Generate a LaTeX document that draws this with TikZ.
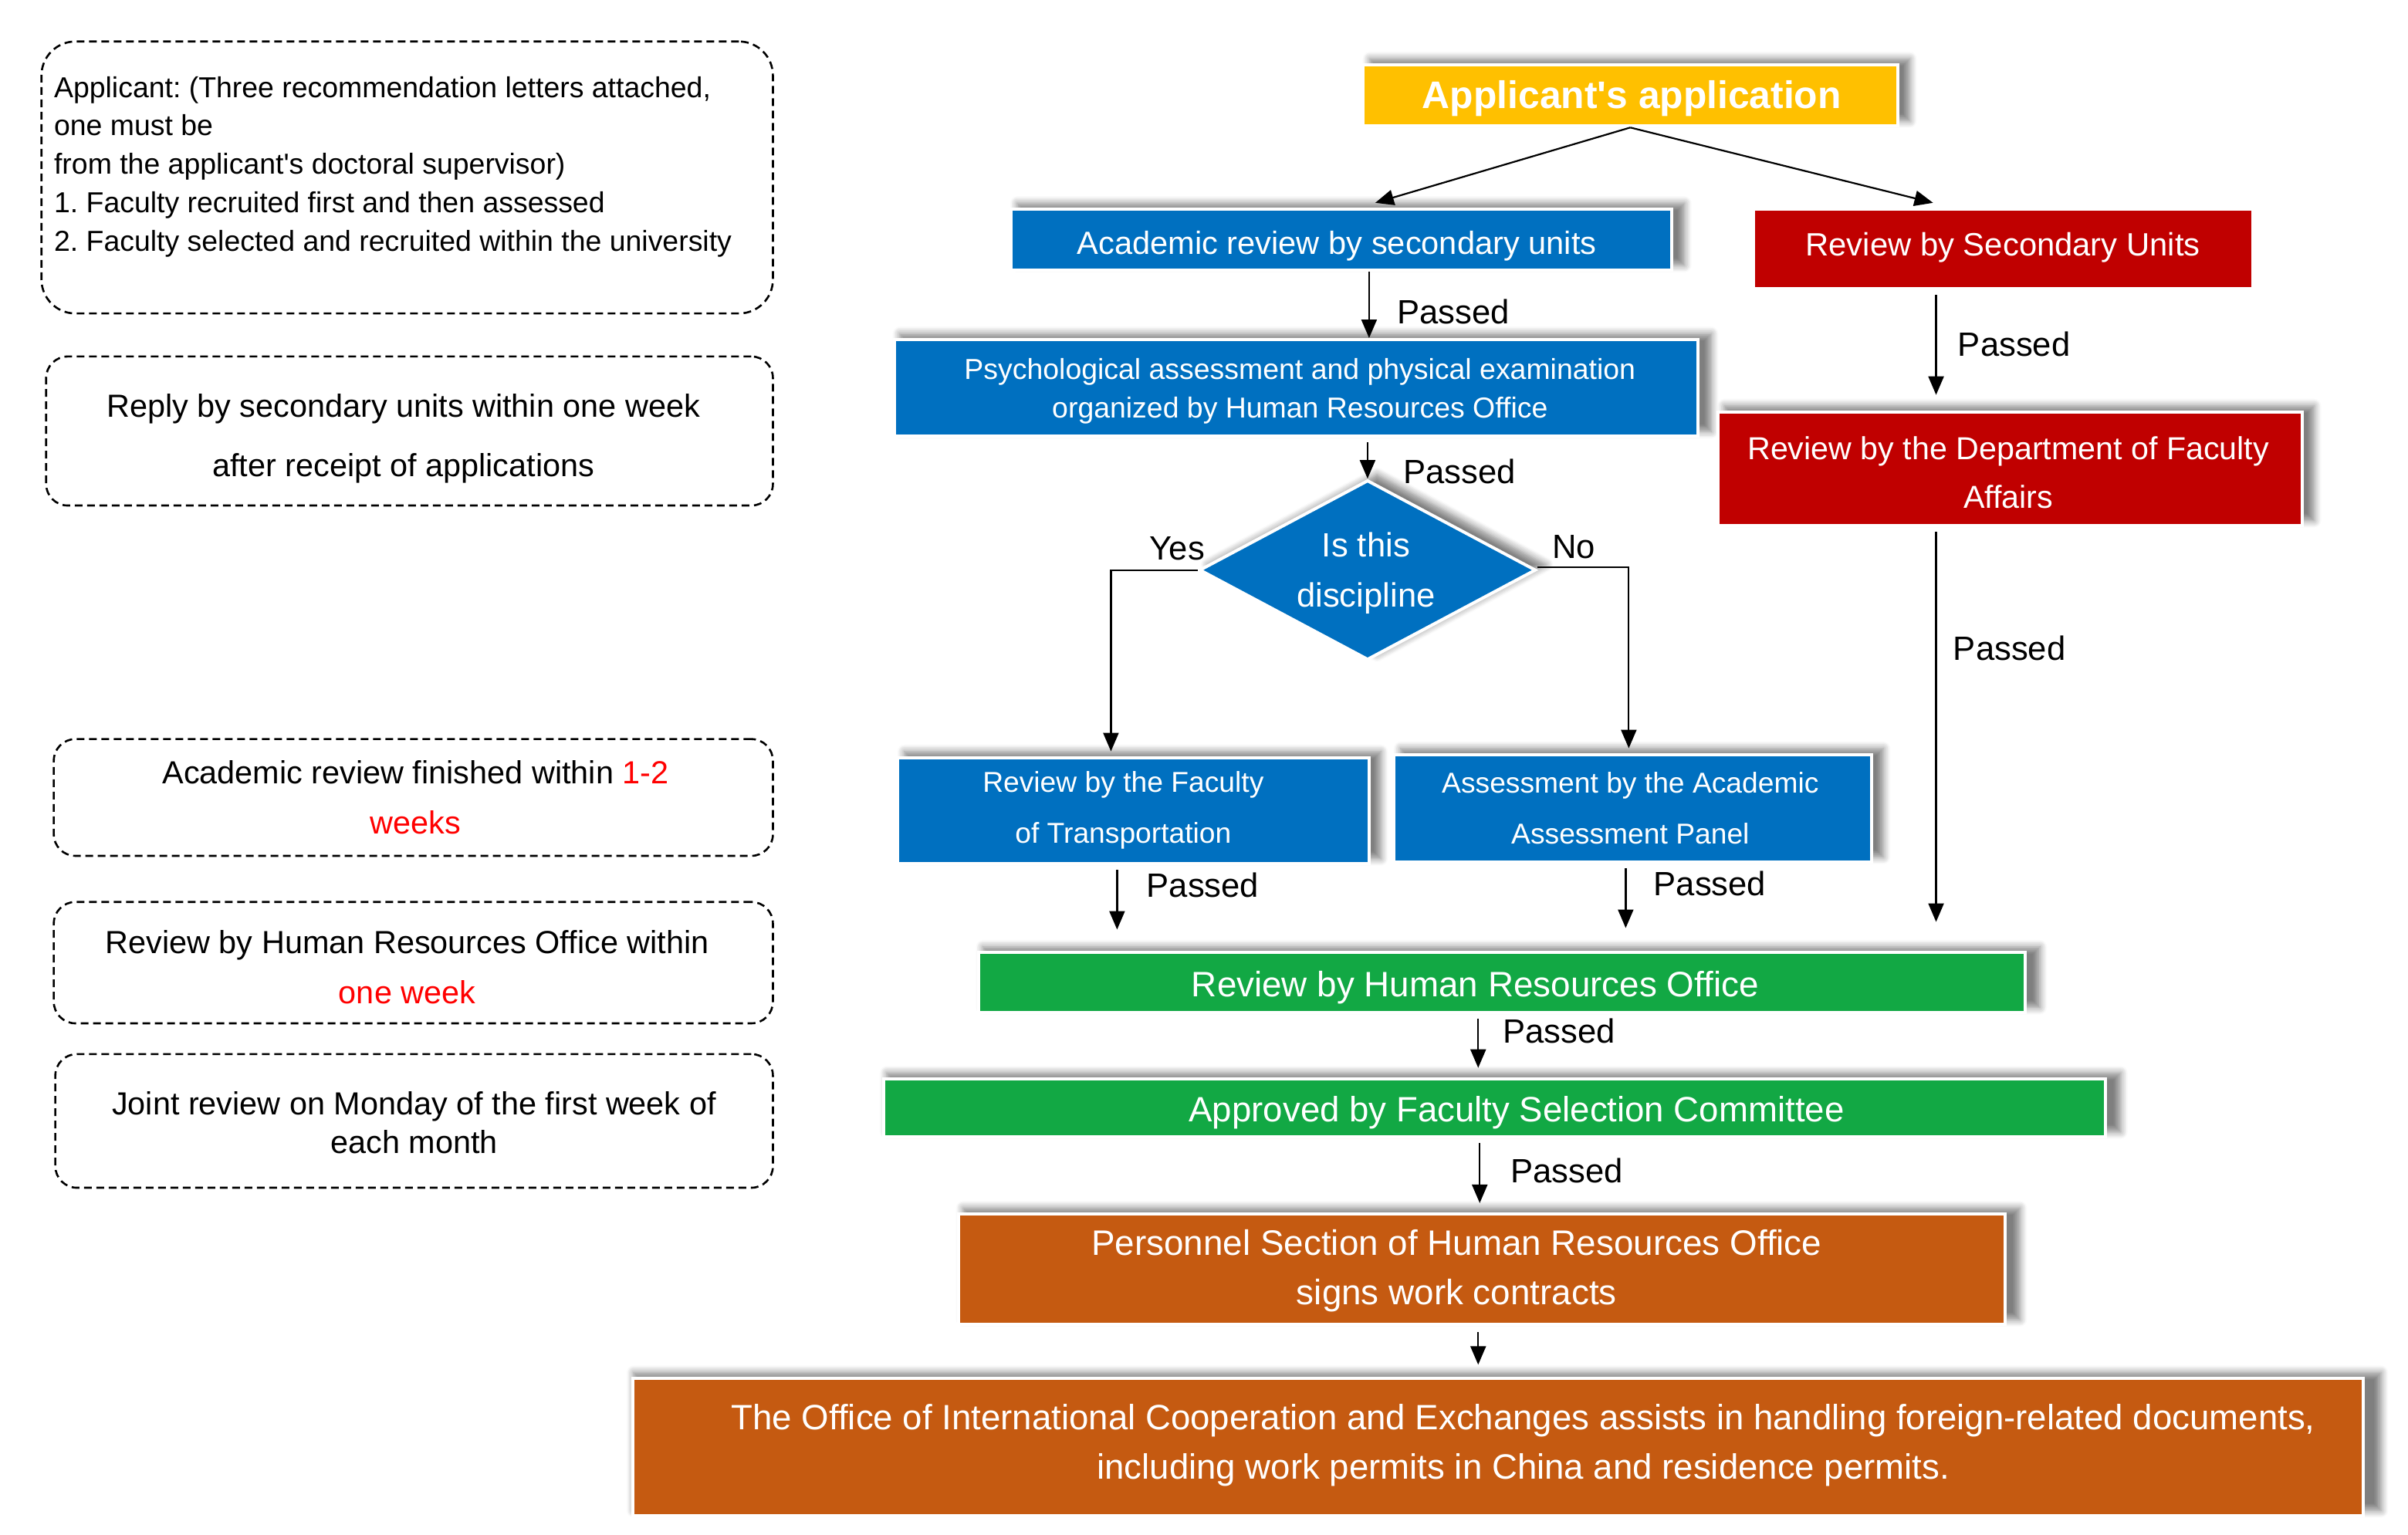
\documentclass[tikz,border=0pt]{standalone}
\usepackage{fontspec}
\setmainfont{Liberation Sans}
\newfontfamily\arialf{Liberation Sans}
\usetikzlibrary{arrows.meta,shapes.geometric,shadows.blur,calc}
\definecolor{cyellow}{RGB}{255,192,0}
\definecolor{cblue}{RGB}{0,112,192}
\definecolor{cred}{RGB}{192,0,0}
\definecolor{cgreen}{RGB}{18,168,68}
\definecolor{corange}{RGB}{197,90,17}
\newcommand\fsz[2]{\arialf\frenchspacing\fontsize{#1}{#2}\selectfont}
\frenchspacing
\begin{document}
\begin{tikzpicture}[x=1pt,y=-1pt,scale=0.9955,every node/.append style={transform shape},
  proc/.style={draw=white, line width=2pt, inner sep=0pt,
    blur shadow={shadow xshift=6pt, shadow yshift=3.5pt, shadow scale=1.01, shadow blur radius=4.5pt, shadow blur steps=6, shadow opacity=50}},
  procns/.style={draw=white, line width=2pt, inner sep=0pt},
  wtxt/.style={text=white, align=center, inner sep=0pt},
  btxt/.style={text=black, align=center, inner sep=0pt},
  note/.style={draw=black, line width=1.3pt, dash pattern=on 5pt off 3pt, inner sep=0pt},
  arr/.style={-{Triangle[length=12pt,width=10pt]}, line width=1.1pt},
  lab/.style={font=\fsz{21.9}{26}, inner sep=0pt, anchor=west},
]
\useasboundingbox (0,0) rectangle (1567.07,999.0);

% ---------- left notes ----------
\node[note, minimum width=476pt, minimum height=177pt, rounded corners=22pt] (n1) at (265,115.5) {};
\node[font=\fsz{18.8}{25}, align=left, anchor=north west, inner sep=0pt] (n1t) at (35,49.5)
  {Applicant: (Three recommendation letters attached,\\one must be\\from the applicant's doctoral supervisor)\\1. Faculty recruited first and then assessed\\2. Faculty selected and recruited within the university};
\node[note, minimum width=473pt, minimum height=97pt, rounded corners=14pt] (n2) at (266.5,280.5) {};
\node[btxt, font=\fsz{20.8}{39}] (n2t) at ($(n2.center)+(-4,5)$)
  {Reply by secondary units within one week\\after receipt of applications};
\node[note, minimum width=468pt, minimum height=76pt, rounded corners=14pt] (n3) at (269,519) {};
\node[btxt, font=\fsz{20.8}{33}] (n3t) at ($(n3.center)+(1.5,0)$)
  {Academic review finished within \textcolor{red}{1-2}\\\textcolor{red}{weeks}};
\node[note, minimum width=468pt, minimum height=79pt, rounded corners=14pt] (n4) at (269,626.5) {};
\node[btxt, font=\fsz{20.8}{33}] (n4t) at ($(n4.center)+(-4,3)$)
  {Review by Human Resources Office within\\\textcolor{red}{one week}};
\node[note, minimum width=467pt, minimum height=87pt, rounded corners=14pt] (n5) at (269.5,729.5) {};
\node[btxt, font=\fsz{20.8}{25}] (n5t) at ($(n5.center)+(0,1)$)
  {Joint review on Monday of the first week of\\each month};

% ---------- flowchart boxes ----------
\node[proc, fill=cyellow, minimum width=348pt, minimum height=40pt] (app) at (1061,62) {};
\node[wtxt, font=\fsz{25}{30}\bfseries] (appt) at ($(app.center)+(1,2)$) {Applicant's application};

\node[proc, fill=cblue, minimum width=430pt, minimum height=40pt] (acad) at (873,156) {};
\node[wtxt, font=\fsz{20.9}{26}] (acadt) at ($(acad.center)+(-3,4)$) {Academic review by secondary units};

\node[procns, fill=cred, minimum width=325pt, minimum height=52pt] (secu) at (1303.5,162) {};
\node[wtxt, font=\fsz{21}{26}] (secut) at ($(secu.center)+(0,-1)$) {Review by Secondary Units};

\node[proc, fill=cblue, minimum width=523pt, minimum height=63pt] (psych) at (843.5,252.5) {};
\node[wtxt, font=\fsz{18.8}{25}] (psycht) at ($(psych.center)+(2.5,2)$)
  {Psychological assessment and physical examination\\organized by Human Resources Office};

\node[proc, fill=cblue, shape=diamond, aspect=1.87, minimum width=219pt, minimum height=117pt] (dia) at (890,371) {};
\node[wtxt, font=\fsz{21.9}{33}] (diat) at ($(dia.center)+(-1,2)$) {Is this\\discipline};

\node[proc, fill=cblue, minimum width=307pt, minimum height=69pt] (fac) at (737.5,527.5) {};
\node[wtxt, font=\fsz{18.7}{33}] (fact) at ($(fac.center)+(-6.5,0)$) {Review by the Faculty\\of Transportation};

\node[proc, fill=cblue, minimum width=311pt, minimum height=70pt] (aap) at (1062.5,526) {};
\node[wtxt, font=\fsz{18.7}{33}] (aapt) at ($(aap.center)+(-1.5,0)$) {Assessment by the Academic\\Assessment Panel};

\node[proc, fill=cred, minimum width=380pt, minimum height=74pt] (dept) at (1308,305) {};
\node[wtxt, font=\fsz{20.7}{32}] (deptt) at ($(dept.center)+(-1,2.5)$) {Review by the Department of Faculty\\Affairs};

\node[proc, fill=cgreen, minimum width=681pt, minimum height=39pt] (hr) at (977.5,639.5) {};
\node[wtxt, font=\fsz{23}{28}] (hrt) at ($(hr.center)+(-17.5,3)$) {Review by Human Resources Office};

\node[proc, fill=cgreen, minimum width=795pt, minimum height=38pt] (afsc) at (972.5,721) {};
\node[wtxt, font=\fsz{22.9}{28}] (afsct) at ($(afsc.center)+(14.5,3)$) {Approved by Faculty Selection Committee};

\node[proc, fill=corange, minimum width=681pt, minimum height=72pt] (pers) at (964.5,826) {};
\node[wtxt, font=\fsz{23}{32}] (perst) at ($(pers.center)+(-16.5,1)$)
  {Personnel Section of Human Resources Office\\signs work contracts};

\node[proc, fill=corange, minimum width=1126pt, minimum height=89pt] (office) at (974.9,941.7) {};
\node[wtxt, font=\fsz{22.9}{32}] (officet) at ($(office.center)+(16.5,-1)$)
  {The Office of International Cooperation and Exchanges assists in handling foreign-related documents,\\including work permits in China and residence permits.};

% ---------- connectors ----------
\draw[arr] (app.south) -- ([xshift=22pt,yshift=3pt]acad.north);
\draw[arr] (app.south) -- ([xshift=-45.5pt,yshift=3pt]secu.north);
\draw[arr] ([xshift=18pt]acad.south) -- ([xshift=18pt]acad.south |- psych.north);
\draw[arr] ([yshift=-3pt]psych.south -| dia.north) -- (dia.north);
\draw[arr] (dia.west) -| ([xshift=-14.5pt,yshift=3pt]fac.north);
\draw[arr] ([yshift=2pt]dia.east) -| ([xshift=-2.5pt,yshift=3pt]aap.north);
\draw[arr] ([xshift=-10.5pt,yshift=-3pt]fac.south) -- ([xshift=-10.5pt,yshift=14pt]fac.south |- hr.north);
\draw[arr] ([xshift=-4.5pt,yshift=-3pt]aap.south) -- ([xshift=-4.5pt,yshift=15pt]aap.south |- hr.north);
\draw[arr] ([xshift=-43.5pt,yshift=-3pt]secu.south) -- ([xshift=-43.5pt,yshift=10pt]secu.south |- dept.north);
\draw[arr] ([xshift=-48pt,yshift=-3pt]dept.south) -- ([xshift=-48pt,yshift=19pt]dept.south |- hr.north);
\draw[arr] ([xshift=-15.5pt,yshift=-3pt]hr.south) -- ([xshift=-15.5pt,yshift=6pt]hr.south |- afsc.north);
\draw[arr] ([xshift=-9.5pt,yshift=-3pt]afsc.south) -- ([xshift=-9.5pt,yshift=6pt]afsc.south |- pers.north);
\draw[arr] ([xshift=-2.5pt,yshift=-4pt]pers.south) -- ([xshift=-2.5pt,yshift=8pt]pers.south |- office.north);

% ---------- labels ----------
\node[lab] (l1) at (909,203) {Passed};
\node[lab] (l2) at (913,307) {Passed};
\node[lab] (l3) at (1274,224) {Passed};
\node[lab] (l4) at (1271,422) {Passed};
\node[lab] (l5) at (746,576) {Passed};
\node[lab] (l6) at (1076,575) {Passed};
\node[lab] (l7) at (978,671) {Passed};
\node[lab] (l8) at (983,762) {Passed};
\node[lab] (yes) at (748,357) {Yes};
\node[lab] (no) at (1010,356) {No};
\end{tikzpicture}
\end{document}
